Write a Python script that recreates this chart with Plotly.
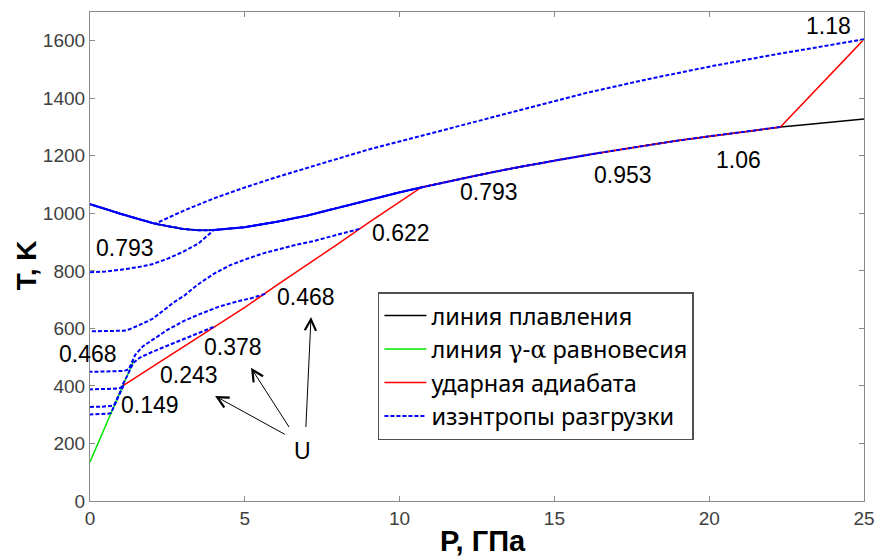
import numpy as np
import plotly.graph_objects as go

# Melting line T(P)
melt_P = [0, 0.5, 1, 1.5, 2, 2.1, 2.5, 3, 3.5, 4, 5, 6, 7, 8, 9, 10, 10.7, 11, 12,
          13, 14, 15, 16, 16.5, 17, 18, 19, 20, 21, 22, 22.3, 23, 24, 25]
melt_T = [1032, 1015, 998, 982, 967, 964, 955, 946, 941, 942, 952, 970, 992, 1018,
          1046, 1073, 1090, 1098, 1121, 1143, 1164, 1184, 1202, 1211, 1220, 1237,
          1253, 1268, 1282, 1296, 1300, 1307, 1318, 1328]

# gamma-alpha equilibrium line
ga_P = [0, 1.42]
ga_T = [136, 490]

# Shock adiabat: solid-phase branch, then along the melting line, then the last state
shock_P_low = [1.08, 2, 3, 4, 5, 6, 7, 8, 9, 10]
shock_T_low = [402, 466, 535, 605, 673, 748, 820, 893, 968, 1040]
shock_melt_from, shock_melt_to = 10.7, 22.3
shock_P_end = [25]
shock_T_end = [1605]

# Release isentropes (explicit branches off the melting line)
iso1_P = [1.08, 0.85, 0.68, 0.62, 0.4, 0]
iso1_T = [402, 347, 306, 304, 302, 301]
iso2_P = [1.08, 0.9, 0.78, 0.72, 0.4, 0]
iso2_T = [402, 360, 334, 331, 328, 327]
isoA_P = [3.99, 3.5, 3.07, 2.5, 2.0, 1.6, 1.4, 1.2, 1.0, 0.92, 0.5, 0]
isoA_T = [605, 584, 565, 540, 518, 498, 480, 435, 394, 391, 389, 388]
isoB_P = [5.66, 5.23, 4.7, 4.15, 3.6, 3.07, 2.5, 2.0, 1.7, 1.46, 1.35, 1.25, 1.1, 0.6, 0]
isoB_T = [720, 706, 692, 675, 652, 628, 595, 559, 537, 508, 482, 458, 452, 450, 449]
isoC_P = [8.7, 8.2, 7.76, 7.2, 6.68, 6.1, 5.6, 5.1, 4.53, 4.0, 3.45, 3.07, 2.7, 2.37,
          2.0, 1.6, 1.3, 1.1, 0.6, 0]
isoC_T = [946, 932, 918, 903, 891, 876, 861, 843, 820, 790, 750, 716, 690, 662,
          632, 612, 598, 592, 591, 590]
# follows the melting line from isoD_start down to P = 4, then leaves it
isoD_start = 10.7
isoD_P = [4, 3.5, 3, 2.5, 2, 1.5, 1, 0.5, 0]
isoD_T = [942, 895, 866, 842, 823, 812, 804, 798, 795]
# upper isentrope, joins the melting line at P = 2.1
isoE_P = [25, 24, 22, 20, 18, 16, 14, 12, 10, 9, 8, 7, 6, 5, 4, 3, 2.1]
isoE_T = [1605, 1587, 1550, 1510, 1466, 1418, 1362, 1305, 1250, 1222, 1190, 1158,
          1125, 1090, 1052, 1008, 964]
# isentropes lying on the melting line from their start down to P = 0
iso_on_melt_starts = [22.3, 16.5]

# Labels (U values) and their positions
lab_text = ["1.18", "1.06", "0.953", "0.793", "0.622", "0.793", "0.468", "0.378",
            "0.468", "0.243", "0.149", "U"]
lab_P = [23.84, 20.94, 17.22, 12.9, 10.05, 1.12, 6.97, 4.62, -0.07, 3.2, 1.93, 6.87]
lab_T = [1651, 1184, 1132, 1075, 931, 881, 710, 535, 510, 437, 333, 173]

# Arrows from the "U" label
arr_tail_P = [6.34, 6.46, 6.97]
arr_tail_T = [229, 252, 252]
arr_head_P = [4.04, 5.2, 7.14]
arr_head_T = [365, 463, 640]

X_RANGE = [0, 25]
Y_RANGE = [0, 1700]
W, H = 877, 556
M = dict(l=90, r=13, t=12, b=55)
px_per_P = (W - M["l"] - M["r"]) / (X_RANGE[1] - X_RANGE[0])

mP = np.array(melt_P)
mT = np.array(melt_T)


def melt_segment(p_hi, p_lo):
    """Melting-line points with p_lo <= P <= p_hi, ordered from p_hi down."""
    sel = (mP <= p_hi + 1e-9) & (mP >= p_lo - 1e-9)
    return list(mP[sel][::-1]), list(mT[sel][::-1])


BLUE = "rgb(0,0,255)"
DASH = "4px,2px"

fig = go.Figure()

fig.add_trace(go.Scatter(x=melt_P, y=melt_T, mode="lines",
                         line=dict(color="black", width=1.5),
                         name="линия плавления"))
fig.add_trace(go.Scatter(x=ga_P, y=ga_T, mode="lines",
                         line=dict(color="rgb(0,230,0)", width=1.5),
                         name="линия <span style=\"font-family:DejaVu Serif\">γ-α</span> равновесия"))

sp_mid, st_mid = melt_segment(shock_melt_to, shock_melt_from)
shock_P = shock_P_low + sp_mid[::-1] + shock_P_end
shock_T = shock_T_low + st_mid[::-1] + shock_T_end
fig.add_trace(go.Scatter(x=shock_P, y=shock_T, mode="lines",
                         line=dict(color="rgb(255,0,0)", width=1.5),
                         name="ударная адиабата"))

# isentropes
iso_curves = []
eP, eT = melt_segment(2.1, 0)
iso_curves.append((isoE_P + eP[1:], isoE_T + eT[1:]))
for s in iso_on_melt_starts:
    iso_curves.append(melt_segment(s, 0))
dP, dT = melt_segment(isoD_start, 4)
iso_curves.append((dP + isoD_P[1:], dT + isoD_T[1:]))
iso_curves.append((isoC_P, isoC_T))
iso_curves.append((isoB_P, isoB_T))
iso_curves.append((isoA_P, isoA_T))
iso_curves.append((iso2_P, iso2_T))
iso_curves.append((iso1_P, iso1_T))

for i, (px, ty) in enumerate(iso_curves):
    fig.add_trace(go.Scatter(x=px, y=ty, mode="lines",
                             line=dict(color=BLUE, width=2, dash=DASH),
                             name="изэнтропы разгрузки",
                             showlegend=(i == 0)))

annotations = []
for t, p, T in zip(lab_text, lab_P, lab_T):
    # labels left of the axis are anchored at P = 0 and shifted in pixels
    xs = min(p, 0) * px_per_P
    annotations.append(dict(x=max(p, 0), y=T, xref="x", yref="y", text=t,
                            showarrow=False, xshift=xs,
                            xanchor="center", yanchor="middle",
                            font=dict(family="Liberation Sans", size=23, color="black")))
for tp, tt, hp, ht in zip(arr_tail_P, arr_tail_T, arr_head_P, arr_head_T):
    annotations.append(dict(x=hp, y=ht, ax=tp, ay=tt, xref="x", yref="y",
                            axref="x", ayref="y", text="", showarrow=True,
                            arrowhead=5, arrowsize=2.2, arrowwidth=1,
                            arrowcolor="black", standoff=0, startstandoff=0))

# axis titles
annotations.append(dict(x=0.508, y=-0.0825, xref="paper", yref="paper",
                        text="<b>P, ГПа</b>", showarrow=False,
                        xanchor="center", yanchor="middle",
                        font=dict(family="Liberation Sans", size=29, color="black")))
annotations.append(dict(x=-0.0826, y=0.482, xref="paper", yref="paper",
                        text="<b>T, K</b>", showarrow=False, textangle=-90,
                        xanchor="center", yanchor="middle",
                        font=dict(family="Liberation Sans", size=28, color="black")))

axis_common = dict(showline=True, linecolor="#8a8a8a", linewidth=1.2, mirror="ticks",
                   ticks="inside", ticklen=5, tickcolor="#8a8a8a", showgrid=False,
                   zeroline=False, automargin=False,
                   tickfont=dict(family="Liberation Sans", size=19, color="#404040"))

fig.update_layout(
    width=W, height=H,
    margin=dict(M, autoexpand=False),
    plot_bgcolor="white", paper_bgcolor="white",
    xaxis=dict(range=X_RANGE, tickvals=[0, 5, 10, 15, 20, 25], **axis_common),
    yaxis=dict(range=Y_RANGE, tickvals=list(range(0, 1601, 200)), **axis_common),
    legend=dict(x=0.372, y=0.427, xanchor="left", yanchor="top",
                bgcolor="white", bordercolor="#505050", borderwidth=1.5,
                itemwidth=42, tracegroupgap=0, entrywidth=303,
                font=dict(family="Noto Sans", size=23.5, color="black")),
    annotations=annotations,
    showlegend=True,
)

fig.write_html("out.html")
